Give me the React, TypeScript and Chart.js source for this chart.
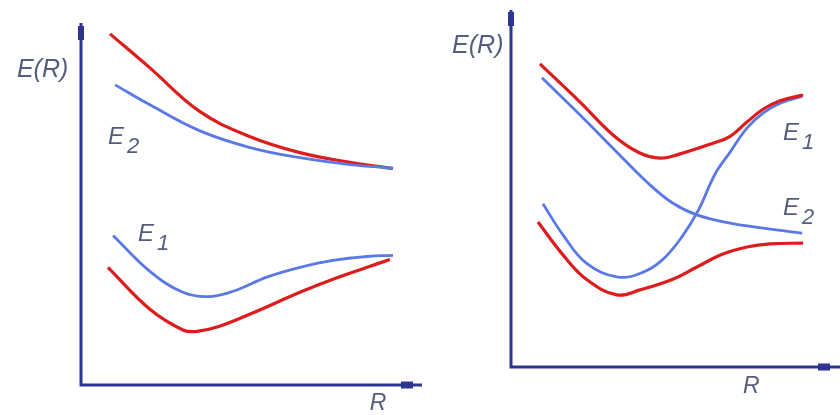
import React, { useEffect, useRef } from "react";
import { Chart, registerables } from "chart.js";
Chart.register(...registerables);

// ---------- Left panel data (R, E in arbitrary units 0..10) ----------
const leftUpperRedR = [0.85, 2.02, 3.49, 4.96, 6.42, 7.89, 9.15];
const leftUpperRedE = [9.7, 8.76, 7.55, 6.86, 6.42, 6.15, 5.98];
const leftUpperBlueR = [1.0, 2.02, 3.49, 4.96, 6.42, 7.89, 9.15];
const leftUpperBlueE = [8.29, 7.74, 7.02, 6.56, 6.28, 6.09, 5.99];
const leftLowerBlueR = [0.94, 2.02, 2.99, 3.72, 4.46, 5.45, 6.42, 7.39, 8.39, 9.15];
const leftLowerBlueE = [4.13, 3.14, 2.56, 2.44, 2.59, 2.98, 3.25, 3.44, 3.55, 3.58];
const leftLowerRedR = [0.79, 2.02, 2.99, 3.4, 3.99, 4.96, 6.42, 7.39, 8.39, 9.06];
const leftLowerRedE = [3.25, 2.09, 1.52, 1.48, 1.6, 1.96, 2.56, 2.92, 3.25, 3.47];

// ---------- Right panel data ----------
const rightUpperRedR = [0.88, 2.1, 3.1, 3.9, 4.53, 5.14, 6.14, 6.66, 7.17, 7.66, 8.18, 8.88];
const rightUpperRedE = [8.49, 7.42, 6.5, 6.0, 5.85, 5.97, 6.27, 6.46, 6.86, 7.22, 7.46, 7.62];
const rightE2BlueR = [0.94, 2.1, 3.1, 4.13, 4.9, 5.65, 6.66, 7.66, 8.85];
const rightE2BlueE = [8.1, 7.06, 6.13, 5.18, 4.6, 4.26, 4.03, 3.89, 3.75];
const rightE1BlueR = [0.97, 1.58, 2.3, 3.25, 4.0, 4.6, 5.2, 5.7, 6.2, 6.66, 7.17, 7.66, 8.18, 8.85];
const rightE1BlueE = [4.57, 3.7, 2.9, 2.52, 2.65, 3.0, 3.65, 4.4, 5.4, 6.02, 6.69, 7.11, 7.39, 7.58];
const rightLowerRedR = [0.82, 1.58, 2.3, 3.22, 3.92, 4.9, 5.65, 6.4, 7.17, 7.87, 8.88];
const rightLowerRedE = [4.06, 3.14, 2.45, 2.02, 2.16, 2.45, 2.8, 3.15, 3.36, 3.45, 3.47];

// ---------- Labels (text, subscript, R, E) ----------
const leftLabelText = ["E(R)", "E", "E", "R"];
const leftLabelSub = ["", "2", "1", ""];
const leftLabelR = [-1.88, 0.79, 1.67, 8.47];
const leftLabelE = [8.51, 6.67, 3.97, -0.69];
const leftLabelSize = [25, 24, 24, 23];

const rightLabelText = ["E(R)", "E", "E", "R"];
const rightLabelSub = ["", "1", "2", ""];
const rightLabelR = [-1.79, 8.27, 8.27, 7.05];
const rightLabelE = [8.8, 6.36, 4.26, -0.73];
const rightLabelSize = [25, 24, 24, 23];

const RED = "#dd1c1c";
const BLUE = "#5b79e4";
const AXIS = "#2c3490";
const TEXT = "#555d7c";

const zip = (xs: number[], ys: number[]) => xs.map((x, i) => ({ x, y: ys[i] }));

const line = (xs: number[], ys: number[], color: string, w: number) => ({
  data: zip(xs, ys),
  borderColor: color,
  borderWidth: w,
  pointRadius: 0,
  showLine: true,
  tension: 0.4,
  fill: false,
});

const axesPlugin = {
  id: "axesArrows",
  beforeDatasetsDraw(chart: any, _a: any, opts: any) {
    const { ctx, chartArea } = chart;
    const { left, right, top, bottom } = chartArea;
    ctx.save();
    ctx.strokeStyle = AXIS;
    ctx.lineWidth = 3;
    ctx.beginPath();
    ctx.moveTo(left, top);
    ctx.lineTo(left, bottom);
    ctx.lineTo(right, bottom);
    ctx.stroke();
    ctx.fillStyle = AXIS;
    ctx.fillRect(left - 3, top + opts.capTop, 6, 14);
    ctx.fillRect(right - opts.capRight - 12, bottom - 3.5, 12, 7);
    ctx.restore();
  },
  afterDraw(chart: any, _a: any, opts: any) {
    const { ctx } = chart;
    const xs = chart.scales.x;
    const ys = chart.scales.y;
    ctx.save();
    ctx.fillStyle = TEXT;
    ctx.textBaseline = "alphabetic";
    ctx.textAlign = "left";
    opts.text.forEach((t: string, i: number) => {
      const px = xs.getPixelForValue(opts.r[i]);
      const py = ys.getPixelForValue(opts.e[i]);
      const size = opts.size[i];
      ctx.font = `italic ${size}px "Liberation Sans", Arial, sans-serif`;
      ctx.fillText(t, px, py);
      if (opts.sub[i]) {
        const w = ctx.measureText(t).width;
        ctx.font = `italic ${Math.round(size * 0.9)}px "Liberation Sans", Arial, sans-serif`;
        ctx.fillText(opts.sub[i], px + w + 3, py + 9);
      }
    });
    ctx.restore();
  },
};

function Panel(props: {
  width: number;
  datasets: any[];
  padding: any;
  labels: any;
  caps: any;
}) {
  const ref = useRef<HTMLCanvasElement>(null);
  useEffect(() => {
    const chart = new Chart(ref.current as HTMLCanvasElement, {
      type: "scatter",
      data: { datasets: props.datasets },
      plugins: [axesPlugin],
      options: {
        animation: false,
        responsive: false,
        devicePixelRatio: 1,
        layout: { padding: props.padding },
        scales: {
          x: { type: "linear", min: 0, max: 10, display: false },
          y: { type: "linear", min: 0, max: 10, display: false },
        },
        plugins: {
          legend: { display: false },
          tooltip: { enabled: false },
          axesArrows: { ...props.labels, ...props.caps },
        } as any,
      },
    });
    return () => chart.destroy();
  }, []);
  return <canvas ref={ref} width={props.width} height={415} style={{ display: "block" }} />;
}

export default function App() {
  const leftSets = [
    line(leftUpperBlueR, leftUpperBlueE, BLUE, 2.8),
    line(leftUpperRedR, leftUpperRedE, RED, 3.2),
    line(leftLowerBlueR, leftLowerBlueE, BLUE, 2.8),
    line(leftLowerRedR, leftLowerRedE, RED, 3.2),
  ];
  const rightSets = [
    line(rightUpperRedR, rightUpperRedE, RED, 3.2),
    line(rightLowerRedR, rightLowerRedE, RED, 3.2),
    line(rightE2BlueR, rightE2BlueE, BLUE, 2.8),
    line(rightE1BlueR, rightE1BlueE, BLUE, 2.8),
  ];
  return (
    <div
      style={{
        position: "fixed",
        left: 0,
        top: 0,
        width: 840,
        height: 415,
        background: "#fff",
        display: "flex",
      }}
    >
      <Panel
        width={430}
        datasets={leftSets}
        padding={{ left: 81, right: 8, top: 23, bottom: 30 }}
        labels={{ text: leftLabelText, sub: leftLabelSub, r: leftLabelR, e: leftLabelE, size: leftLabelSize }}
        caps={{ capTop: 3, capRight: 9 }}
      />
      <Panel
        width={410}
        datasets={rightSets}
        padding={{ left: 81, right: 0, top: 10, bottom: 48 }}
        labels={{ text: rightLabelText, sub: rightLabelSub, r: rightLabelR, e: rightLabelE, size: rightLabelSize }}
        caps={{ capTop: 2, capRight: 10 }}
      />
    </div>
  );
}
